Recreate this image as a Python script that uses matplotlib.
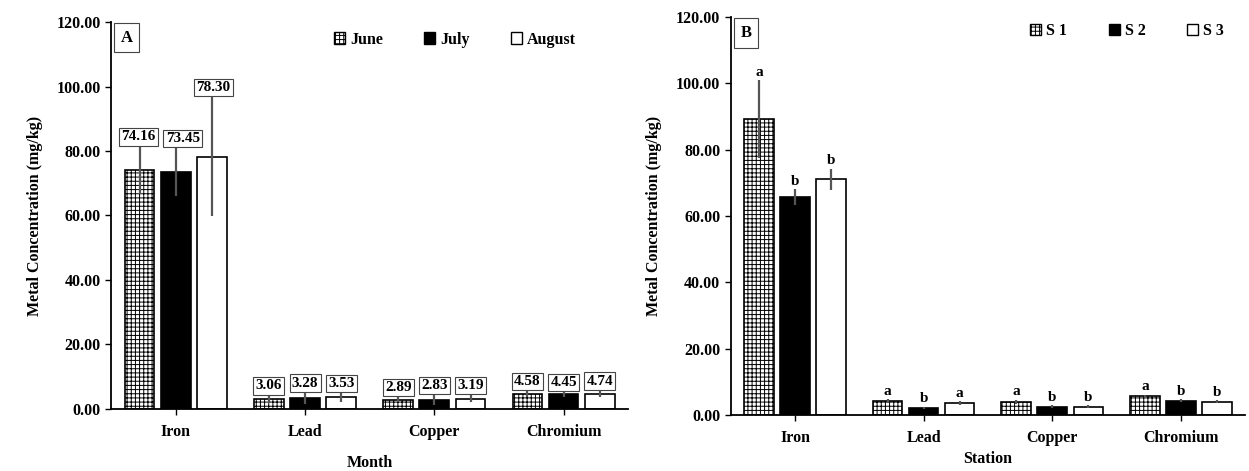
import numpy as np
import matplotlib
matplotlib.use("Agg")
import matplotlib.pyplot as plt
from matplotlib.patches import Patch

plt.rcParams['font.family'] = ['Liberation Serif', 'DejaVu Serif']
plt.rcParams['font.weight'] = 'bold'
plt.rcParams['hatch.linewidth'] = 0.7

metals = ['Iron', 'Lead', 'Copper', 'Chromium']

# panel A: by month
months = ['June', 'July', 'August']
june = [74.16, 3.06, 2.89, 4.58]
july = [73.45, 3.28, 2.83, 4.45]
august = [78.30, 3.53, 3.19, 4.74]
june_err = [7.4, 1.2, 0.8, 1.0]
july_err = [7.5, 1.8, 1.5, 0.9]
august_err = [18.6, 1.5, 1.2, 1.0]

# panel B: by station
stations = ['S 1', 'S 2', 'S 3']
s1 = [89.3, 4.2, 4.0, 5.6]
s2 = [65.7, 2.1, 2.5, 4.3]
s3 = [71.0, 3.6, 2.5, 4.0]
s1_err = [11.7, 0.5, 0.6, 0.5]
s2_err = [2.4, 0.4, 0.4, 0.4]
s3_err = [3.2, 0.5, 0.4, 0.5]
s1_let = ['a', 'a', 'a', 'a']
s2_let = ['b', 'b', 'b', 'b']
s3_let = ['b', 'a', 'b', 'b']

styles = [dict(facecolor='white', edgecolor='black', hatch='++++'),
          dict(facecolor='black', edgecolor='black'),
          dict(facecolor='white', edgecolor='black')]

# small sideways nudges (points) so neighbouring value boxes don't collide
nudge = {(0, 0): -1, (1, 0): 5, (2, 0): 1}

fig = plt.figure(figsize=(12.49, 4.71), dpi=100)
axA = fig.add_axes([0.089, 0.132, 0.414, 0.821])
axB = fig.add_axes([0.585, 0.119, 0.412, 0.845])

x = np.arange(len(metals))
w = 0.23
step = 0.28


def panel(ax, series, errs, tag, xlabel, labels=False, letters=None):
    for i, (vals, err) in enumerate(zip(series, errs)):
        pos = x + (i - 1) * step
        ax.bar(pos, vals, w, linewidth=1.2, **styles[i])
        ax.errorbar(pos, vals, yerr=err, fmt='none', ecolor='#555555',
                    elinewidth=1.6, capsize=0)
        for k, (p, v, e) in enumerate(zip(pos, vals, err)):
            if labels:
                ax.annotate(f'{v:.2f}', (p, v + e), xytext=(nudge.get((i, k), 0), 2),
                            textcoords='offset points', ha='center', va='bottom',
                            fontsize=11, fontweight='bold',
                            bbox=dict(boxstyle='square,pad=0.15', fc='white',
                                      ec='#444444', lw=0.8))
            if letters is not None:
                ax.annotate(letters[i][k], (p, v + e), xytext=(0, 1),
                            textcoords='offset points', ha='center', va='bottom',
                            fontsize=11, fontweight='bold')
    ax.set_xlim(-0.5, len(metals) - 0.5)
    ax.set_ylim(0, 120)
    ticks = np.arange(0, 121, 20)
    ax.set_yticks(ticks)
    ax.set_yticklabels([f'{t:.2f}' for t in ticks])
    ax.set_xticks(x)
    ax.set_xticklabels(metals)
    ax.tick_params(axis='both', labelsize=11.5, direction='out', length=4, width=1)
    ax.tick_params(axis='x', pad=7)
    for s in ['top', 'right']:
        ax.spines[s].set_visible(False)
    for s in ['left', 'bottom']:
        ax.spines[s].set_linewidth(1.3)
    ax.set_ylabel('Metal Concentration (mg/kg)', fontsize=11.5, fontweight='bold', labelpad=10)
    ax.set_xlabel(xlabel, fontsize=11.5, fontweight='bold', labelpad=8)
    ax.text(0.03, 0.96, tag, transform=ax.transAxes, ha='center', va='center',
            fontsize=12, fontweight='bold',
            bbox=dict(boxstyle='square,pad=0.4', fc='white', ec='#444444', lw=0.8))
    return [Patch(linewidth=1.0, **styles[i]) for i in range(3)]


hA = panel(axA, [june, july, august], [june_err, july_err, august_err],
           'A', 'Month', labels=True)
axA.legend(hA, months, loc='center', bbox_to_anchor=(0.665, 0.955), ncol=3,
           frameon=False, handlelength=0.7, handleheight=0.7, handletextpad=0.3,
           columnspacing=2.6, prop={'size': 11.5, 'weight': 'bold'})
axA.xaxis.set_label_coords(0.5, -0.12)

hB = panel(axB, [s1, s2, s3], [s1_err, s2_err, s3_err],
           'B', 'Station', letters=[s1_let, s2_let, s3_let])
axB.legend(hB, stations, loc='center', bbox_to_anchor=(0.77, 0.965), ncol=3,
           frameon=False, handlelength=0.7, handleheight=0.7, handletextpad=0.3,
           columnspacing=2.6, prop={'size': 11.5, 'weight': 'bold'})
axB.xaxis.set_label_coords(0.5, -0.09)

fig.savefig('out.png', dpi=100)
